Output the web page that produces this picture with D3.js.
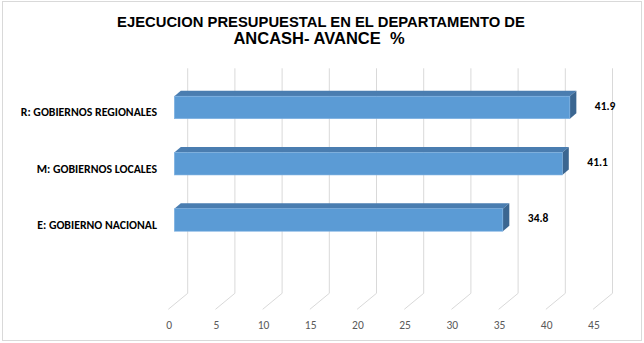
<!DOCTYPE html>
<html><head><meta charset="utf-8">
<script src="https://cdn.jsdelivr.net/npm/d3@7"></script>
<style>html,body{margin:0;padding:0;background:#fff;}svg{display:block;}text{white-space:pre;}</style>
</head><body>
<script>
const categories = ["R: GOBIERNOS REGIONALES", "M: GOBIERNOS LOCALES", "E: GOBIERNO NACIONAL"];
const values = [41.9, 41.1, 34.8];
const ticks = [0, 5, 10, 15, 20, 25, 30, 35, 40, 45];
const titleLine1 = "EJECUCION PRESUPUESTAL EN EL DEPARTAMENTO DE";
const titleLine2 = "ANCASH- AVANCE  %";

const W = 644, H = 343;
const svg = d3.select("body").append("svg").attr("width", W).attr("height", H);
svg.append("rect").attr("x", 2.5).attr("y", 1.5).attr("width", W - 5).attr("height", H - 4)
  .attr("fill", "#fff").attr("stroke", "#d9d9d9").attr("stroke-width", 1);

const backTop = 68.3, backBottom = 293.3;
const x = d3.scaleLinear().domain([0, 45]).range([187.7, 612.5]);
const frontDX = -19.4, frontDY = 16;
const barFrontF = 0.69, barBackF = 0.355;

const step = (backBottom - backTop) / 4;
const y = d3.scaleBand().domain(categories).range([backTop, backTop + step * categories.length])
  .paddingInner(0.6).paddingOuter(0.3);

const grid = svg.append("g");
ticks.forEach(t => {
  const bx = x(t);
  grid.append("path")
    .attr("d", `M${bx},${backTop}L${bx},${backBottom}L${bx + frontDX},${backBottom + frontDY}`)
    .attr("fill", "none").attr("stroke", "#d9d9d9").attr("stroke-width", 1);
});

const calibri = "Carlito, Calibri, 'Open Sans', 'Liberation Sans', sans-serif";
svg.append("g").selectAll("text").data(ticks).join("text")
  .attr("x", d => x(d) + frontDX + 0.8).attr("y", 328.5)
  .attr("text-anchor", "middle")
  .attr("font-family", calibri)
  .attr("font-size", 11.5).attr("fill", "#595959")
  .text(d => d);

const fdx = frontDX * barFrontF, fdy = frontDY * barFrontF;
const bdx = frontDX * barBackF, bdy = frontDY * barBackF;
const bars = svg.append("g");
categories.forEach((c, i) => {
  const v = values[i];
  const y0 = y(c), y1 = y(c) + y.bandwidth();
  const xl = x(0), xr = x(v);
  const g = bars.append("g");
  g.append("path")
    .attr("d", `M${xl + fdx},${y0 + fdy}L${xr + fdx},${y0 + fdy}L${xr + bdx},${y0 + bdy}L${xl + bdx},${y0 + bdy}Z`)
    .attr("fill", "#4a7db0");
  g.append("path")
    .attr("d", `M${xr + fdx},${y0 + fdy}L${xr + bdx},${y0 + bdy}L${xr + bdx},${y1 + bdy}L${xr + fdx},${y1 + fdy}Z`)
    .attr("fill", "#3b6691");
  g.append("rect")
    .attr("x", xl + fdx).attr("y", y0 + fdy)
    .attr("width", xr - xl).attr("height", y1 - y0)
    .attr("fill", "#5b9bd5").attr("stroke", "#7fb2e2").attr("stroke-width", 0.6);
  svg.append("text")
    .attr("x", xr + fdx + 25).attr("y", y0 + fdy + (y1 - y0) / 2 + 2.5)
    .attr("font-family", calibri)
    .attr("font-weight", "bold").attr("font-size", 11.5).attr("fill", "#000")
    .text(v.toFixed(1));
  svg.append("text")
    .attr("x", 157).attr("y", y0 + fdy + (y1 - y0) / 2 + 8.8)
    .attr("text-anchor", "end")
    .attr("font-family", calibri)
    .attr("font-weight", "bold").attr("font-size", 11.8).attr("fill", "#000")
    .text(c);
});

svg.append("text").attr("x", 321).attr("y", 26.7).attr("text-anchor", "middle")
  .attr("font-family", "'Liberation Sans Narrow', 'Arial Narrow', 'Liberation Sans', sans-serif")
  .attr("font-weight", "bold").attr("font-size", 14.8).attr("fill", "#000").text(titleLine1);
svg.append("text").attr("x", 319).attr("y", 44.3).attr("text-anchor", "middle")
  .attr("font-family", "'Liberation Sans', Arial, sans-serif")
  .attr("font-weight", "bold").attr("font-size", 16.5).attr("fill", "#000").text(titleLine2);
</script>
</body></html>
